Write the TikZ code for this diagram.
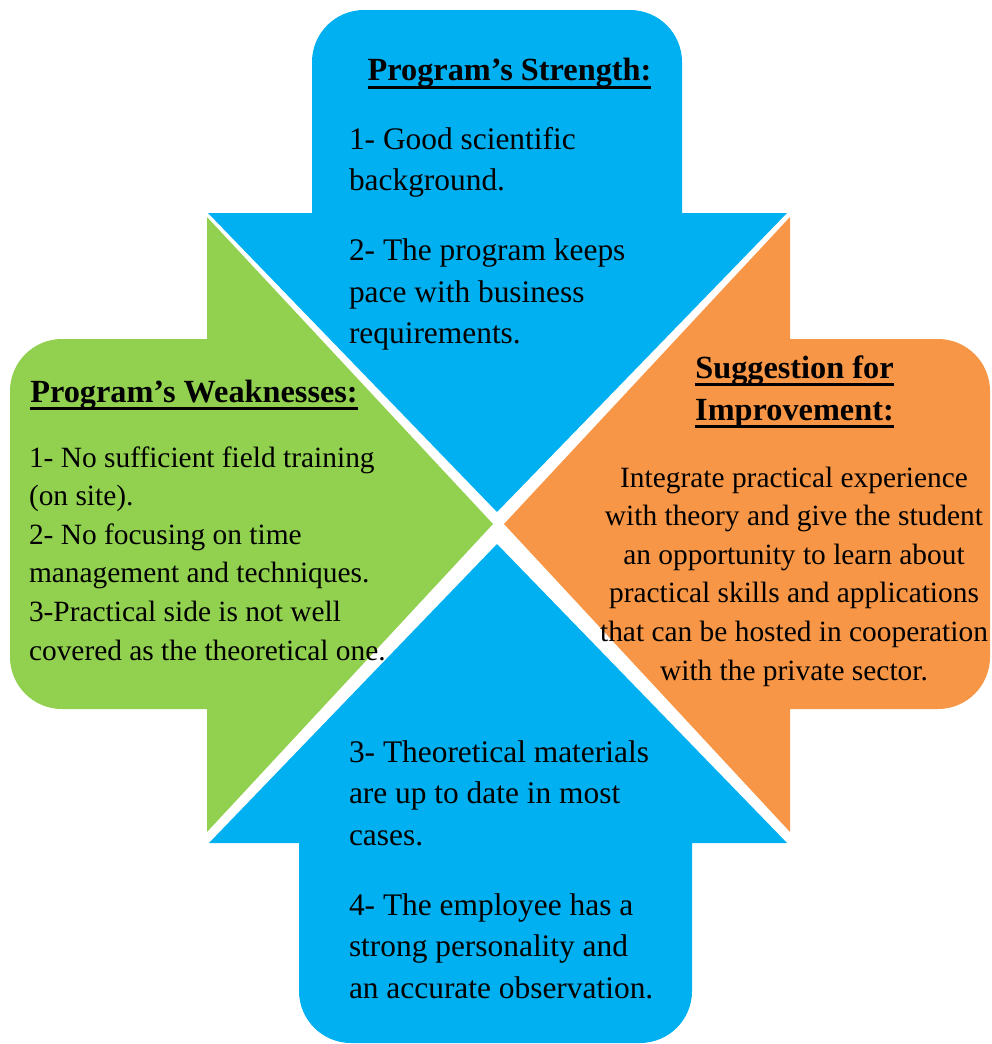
\documentclass[tikz,border=0pt]{standalone}
\usepackage{fontspec}
\setmainfont{Liberation Serif}
\definecolor{cblue}{HTML}{00B0F0}
\definecolor{cgreen}{HTML}{92D050}
\definecolor{corange}{HTML}{F79646}
\begin{document}
\begin{tikzpicture}[x=1pt,y=-1pt,
  body/.style={inner sep=0pt, outer sep=0pt},
  headtxt/.style={body, font=\fontsize{32.3}{41.5}\selectfont\bfseries, anchor=base},
  ulline/.style={line width=3pt},
  bigtxt/.style={body, font=\fontsize{31.4}{41.5}\selectfont, anchor=base west},
  smalltxt/.style={body, font=\fontsize{29.4}{38.6}\selectfont}]
\useasboundingbox (0,0) rectangle (992,1044);
% shapes
\fill[cblue] (312,213) -- (208,213) -- (497,512) -- (787,213) -- (682,213)
  [rounded corners=52pt] -- (682,10) -- (312,10) [sharp corners] -- (312,213) -- cycle;
\fill[cgreen] (207,339) -- (207,217) -- (493,524) -- (207,832) -- (207,709)
  [rounded corners=52pt] -- (10,709) -- (10,339) [sharp corners] -- (207,339) -- cycle;
\fill[corange] (790,339) -- (790,217) -- (504,524) -- (790,832) -- (790,709)
  [rounded corners=52pt] -- (990,709) -- (990,339) [sharp corners] -- (790,339) -- cycle;
\fill[cblue] (299,843) -- (209,843) -- (497,544) -- (787,843) -- (692,843)
  [rounded corners=52pt] -- (692,1043) -- (299,1043) [sharp corners] -- (299,843) -- cycle;
% headings
\node[headtxt] (hs) at (509.5,80) {Program’s Strength:};
\draw[ulline] ([yshift=-7pt]hs.base west) -- ([yshift=-7pt]hs.base east);
\node[headtxt] (hw) at (194,402) {Program’s Weaknesses:};
\draw[ulline] ([yshift=-6pt]hw.base west) -- ([yshift=-6pt]hw.base east);
\node[headtxt] (hi1) at (794.5,378) {Suggestion for};
\draw[ulline] ([yshift=-6pt]hi1.base west) -- ([yshift=-6pt]hi1.base east);
\node[headtxt] (hi2) at (794.5,420) {Improvement:};
\draw[ulline] ([yshift=-6pt]hi2.base west) -- ([yshift=-6pt]hi2.base east);
% texts
\node[bigtxt] (ts) at (349,149) {\parbox[t]{400pt}{\raggedright
  1- Good scientific\\background.\\[28.5pt]2- The program keeps\\pace with business\\requirements.}};
\node[bigtxt] (tb) at (349,762) {\parbox[t]{400pt}{\raggedright
  3- Theoretical materials\\are up to date in most\\cases.\\[28.5pt]4- The employee has a\\strong personality and\\an accurate observation.}};
\node[smalltxt, anchor=base west] (tw) at (29,467) {\parbox[t]{400pt}{\raggedright
  1- No sufficient field training\\(on site).\\2- No focusing on time\\management and techniques.\\3-Practical side is not well\\covered as the theoretical one.}};
\node[smalltxt, anchor=base] (ti) at (794,487) {\parbox[t]{440pt}{\centering
  Integrate practical experience\\with theory and give the student\\an opportunity to learn about\\practical skills and applications\\that can be hosted in cooperation\\with the private sector.}};
\end{tikzpicture}
\end{document}
